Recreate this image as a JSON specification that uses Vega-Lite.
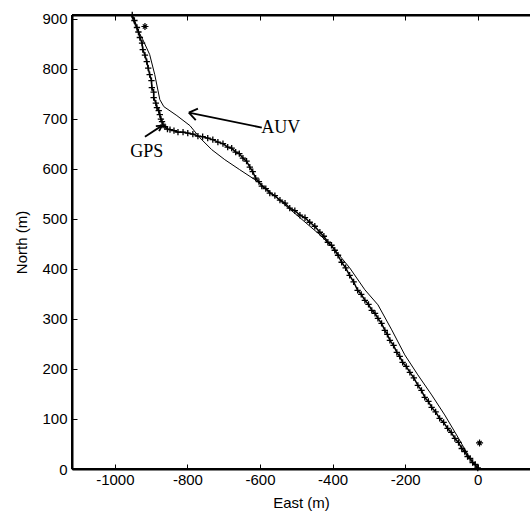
{
  "$schema": "https://vega.github.io/schema/vega-lite/v6.json",
  "width": 458,
  "height": 454,
  "autosize": {"type": "none"},
  "padding": {"left": 72, "top": 15, "right": 0, "bottom": 50},
  "background": "white",
  "config": {
    "view": {"stroke": null},
    "axis": {
      "grid": false,
      "domain": true,
      "ticks": true,
      "labelColor": "black",
      "titleColor": "black",
      "labelFont": "Liberation Sans",
      "titleFont": "Liberation Sans",
      "labelFontSize": 15,
      "titleFontSize": 15,
      "titleFontWeight": "normal",
      "domainColor": "black",
      "domainWidth": 2,
      "tickColor": "black",
      "tickWidth": 1,
      "tickSize": -5
    }
  },
  "datasets": {
    "gps": [
      {"east": -952, "north": 907},
      {"east": -946, "north": 896}, {"east": -939, "north": 882}, {"east": -935, "north": 873},
      {"east": -931, "north": 862}, {"east": -925, "north": 851}, {"east": -923, "north": 838},
      {"east": -917, "north": 827}, {"east": -912, "north": 814}, {"east": -908, "north": 801},
      {"east": -904, "north": 788}, {"east": -899, "north": 776}, {"east": -898, "north": 762},
      {"east": -893, "north": 753}, {"east": -893, "north": 742}, {"east": -887, "north": 731},
      {"east": -884, "north": 722}, {"east": -879, "north": 716}, {"east": -876, "north": 708},
      {"east": -873, "north": 699}, {"east": -870, "north": 694}, {"east": -867, "north": 687},
      {"east": -862, "north": 684}, {"east": -855, "north": 679}, {"east": -848, "north": 678},
      {"east": -837, "north": 676}, {"east": -826, "north": 673}, {"east": -812, "north": 673},
      {"east": -799, "north": 671}, {"east": -785, "north": 669}, {"east": -771, "north": 665},
      {"east": -758, "north": 664}, {"east": -744, "north": 661}, {"east": -730, "north": 658},
      {"east": -716, "north": 653}, {"east": -702, "north": 650}, {"east": -689, "north": 643},
      {"east": -678, "north": 641}, {"east": -667, "north": 633}, {"east": -657, "north": 630},
      {"east": -647, "north": 621}, {"east": -637, "north": 615}, {"east": -628, "north": 603},
      {"east": -620, "north": 594}, {"east": -612, "north": 581}, {"east": -603, "north": 574},
      {"east": -595, "north": 565}, {"east": -584, "north": 560}, {"east": -573, "north": 551},
      {"east": -559, "north": 546}, {"east": -545, "north": 537}, {"east": -531, "north": 531},
      {"east": -518, "north": 521}, {"east": -504, "north": 516}, {"east": -490, "north": 507},
      {"east": -476, "north": 502}, {"east": -463, "north": 493}, {"east": -449, "north": 485},
      {"east": -435, "north": 473}, {"east": -424, "north": 465}, {"east": -413, "north": 453},
      {"east": -403, "north": 447}, {"east": -394, "north": 437}, {"east": -385, "north": 427},
      {"east": -375, "north": 413}, {"east": -364, "north": 402}, {"east": -353, "north": 387},
      {"east": -342, "north": 374}, {"east": -331, "north": 357}, {"east": -321, "north": 349},
      {"east": -311, "north": 337}, {"east": -301, "north": 329}, {"east": -292, "north": 317},
      {"east": -283, "north": 311}, {"east": -275, "north": 301}, {"east": -265, "north": 291},
      {"east": -256, "north": 277}, {"east": -249, "north": 269}, {"east": -242, "north": 257},
      {"east": -232, "north": 247}, {"east": -223, "north": 233}, {"east": -215, "north": 225},
      {"east": -207, "north": 213}, {"east": -197, "north": 205}, {"east": -187, "north": 193},
      {"east": -176, "north": 182}, {"east": -165, "north": 167}, {"east": -155, "north": 157},
      {"east": -146, "north": 143}, {"east": -136, "north": 135}, {"east": -127, "north": 123},
      {"east": -116, "north": 114}, {"east": -105, "north": 101}, {"east": -94, "north": 93},
      {"east": -83, "north": 81}, {"east": -73, "north": 73}, {"east": -63, "north": 61},
      {"east": -53, "north": 53}, {"east": -44, "north": 41}, {"east": -36, "north": 35},
      {"east": -28, "north": 25}, {"east": -21, "north": 21}, {"east": -14, "north": 13},
      {"east": -7, "north": 9}, {"east": 0, "north": 2}
    ],
    "gpsOutliers": [
      {"east": -917, "north": 884}, {"east": 5, "north": 52}
    ],
    "auv": [
      {"east": -955, "north": 907}, {"east": -945, "north": 888}, {"east": -923, "north": 858},
      {"east": -904, "north": 828}, {"east": -890, "north": 788}, {"east": -876, "north": 738},
      {"east": -865, "north": 724}, {"east": -829, "north": 706}, {"east": -793, "north": 686},
      {"east": -766, "north": 662}, {"east": -733, "north": 638}, {"east": -697, "north": 618},
      {"east": -656, "north": 598}, {"east": -614, "north": 578}, {"east": -579, "north": 558},
      {"east": -532, "north": 528}, {"east": -490, "north": 502}, {"east": -435, "north": 468},
      {"east": -394, "north": 438}, {"east": -353, "north": 402}, {"east": -311, "north": 358},
      {"east": -275, "north": 328}, {"east": -237, "north": 278}, {"east": -201, "north": 228},
      {"east": -165, "north": 188}, {"east": -127, "north": 148}, {"east": -91, "north": 108},
      {"east": -55, "north": 64}, {"east": -22, "north": 22}, {"east": 0, "north": 0}
    ],
    "frame": [
      {"x": -1118, "y": 0, "x2": 144, "y2": 0},
      {"x": -1118, "y": 0, "x2": -1118, "y2": 907},
      {"x": -1118, "y": 907, "x2": 144, "y2": 907}
    ],
    "arrows": [
      {"x": -917, "y": 664, "x2": -870, "y2": 686},
      {"x": -887, "y": 685, "x2": -870, "y2": 686},
      {"x": -878, "y": 675, "x2": -870, "y2": 686},
      {"x": -595, "y": 682, "x2": -796, "y2": 712},
      {"x": -777, "y": 697, "x2": -796, "y2": 712},
      {"x": -771, "y": 720, "x2": -796, "y2": 712}
    ],
    "labels": [
      {"x": -912, "y": 634, "text": "GPS"},
      {"x": -543, "y": 682, "text": "AUV"}
    ]
  },
  "layer": [
    {
      "layer": [
        {
          "data": {"name": "auv"},
          "mark": {"type": "line", "color": "black", "strokeWidth": 1},
          "encoding": {
            "x": {"field": "east", "type": "quantitative", "scale": {"domain": [-1118, 144], "nice": false, "zero": false},
              "axis": {"orient": "bottom", "title": "East (m)", "values": [-1000, -800, -600, -400, -200, 0],
                "labelExpr": "datum.value == 0 ? '0' : '-' + abs(datum.value)", "labelPadding": 8, "titlePadding": 8}},
            "y": {"field": "north", "type": "quantitative", "scale": {"domain": [0, 907], "nice": false},
              "axis": {"title": "North (m)", "values": [0, 100, 200, 300, 400, 500, 600, 700, 800, 900], "format": "d", "labelPadding": 10, "titlePadding": 12}},
            "order": {"field": "north", "sort": "descending"}
          }
        },
        {
          "data": {"name": "frame"},
          "mark": {"type": "rule", "color": "black", "strokeWidth": 2},
          "encoding": {
            "x": {"field": "x", "type": "quantitative"},
            "y": {"field": "y", "type": "quantitative"},
            "x2": {"field": "x2"},
            "y2": {"field": "y2"}
          }
        },
        {
          "data": {"name": "gps"},
          "mark": {"type": "line", "color": "black", "strokeWidth": 1.5},
          "encoding": {
            "x": {"field": "east", "type": "quantitative"},
            "y": {"field": "north", "type": "quantitative"},
            "order": {"field": "north", "sort": "descending"}
          }
        },
        {
          "data": {"name": "gps"},
          "mark": {"type": "point", "shape": "M-1,0L1,0M0,-1L0,1", "filled": false, "stroke": "black", "strokeWidth": 1.3, "size": 40, "opacity": 1},
          "encoding": {
            "x": {"field": "east", "type": "quantitative"},
            "y": {"field": "north", "type": "quantitative"}
          }
        },
        {
          "data": {"name": "gpsOutliers"},
          "mark": {"type": "point", "shape": "M-1,0L1,0M0,-1L0,1M-0.6,-0.6L0.6,0.6M-0.6,0.6L0.6,-0.6", "filled": false, "stroke": "black", "strokeWidth": 1.2, "size": 50, "opacity": 1},
          "encoding": {
            "x": {"field": "east", "type": "quantitative"},
            "y": {"field": "north", "type": "quantitative"}
          }
        },
        {
          "data": {"name": "arrows"},
          "mark": {"type": "rule", "color": "black", "strokeWidth": 1.8},
          "encoding": {
            "x": {"field": "x", "type": "quantitative"},
            "y": {"field": "y", "type": "quantitative"},
            "x2": {"field": "x2"},
            "y2": {"field": "y2"}
          }
        }
      ]
    },
    {
      "data": {"name": "labels"},
      "mark": {"type": "text", "font": "Liberation Serif", "fontSize": 18, "color": "black", "align": "center", "baseline": "middle"},
      "encoding": {
        "x": {"field": "x", "type": "quantitative", "scale": {"domain": [-1118, 144], "nice": false, "zero": false},
          "axis": {"orient": "top", "title": null, "labels": false, "values": [-1000, -800, -600, -400, -200, 0]}},
        "y": {"field": "y", "type": "quantitative"},
        "text": {"field": "text"}
      }
    }
  ],
  "resolve": {"scale": {"x": "independent"}}
}
